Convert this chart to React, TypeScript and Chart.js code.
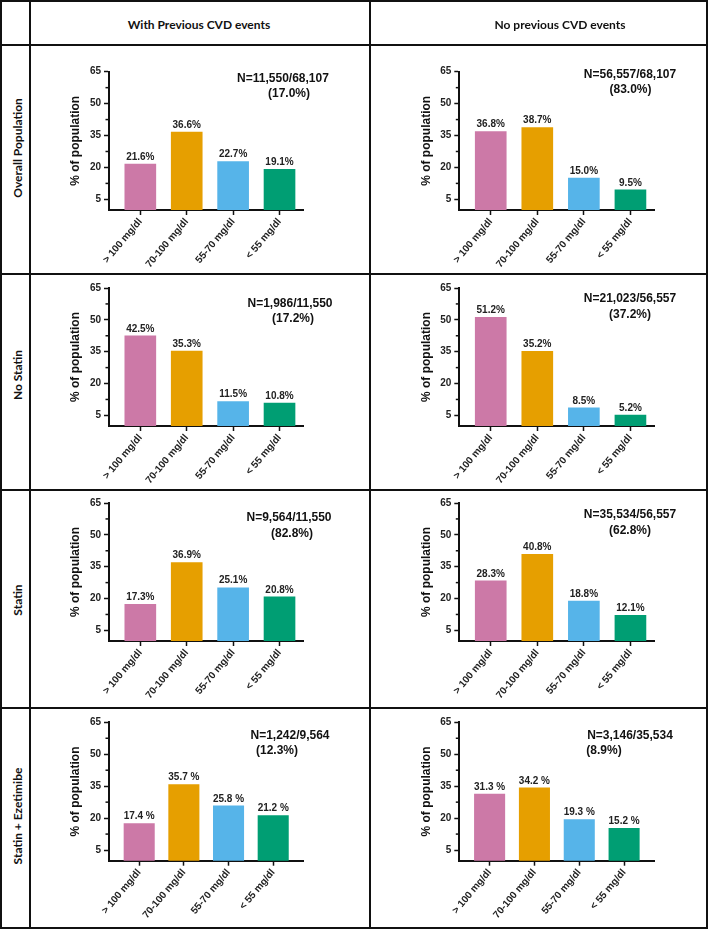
import React, { useEffect, useRef } from 'react';
import { Chart, registerables } from 'chart.js';

Chart.register(...registerables);

// ---------- data ----------
const categories = ['> 100 mg/dl', '70-100 mg/dl', '55-70 mg/dl', '< 55 mg/dl'];
const columnHeaders = ['With Previous CVD events', 'No previous CVD events'];
const rowLabels = ['Overall Population', 'No Statin', 'Statin', 'Statin + Ezetimibe'];
const yTicks = [5, 20, 35, 50, 65];
const yMinorTicks = [12.5, 27.5, 42.5, 57.5];
const barColors = ['#CC79A7', '#E69F00', '#56B4E9', '#009E73'];
const yTitle = '% of population';

const overallPrev = [21.6, 36.6, 22.7, 19.1];
const overallNoPrev = [36.8, 38.7, 15.0, 9.5];
const noStatinPrev = [42.5, 35.3, 11.5, 10.8];
const noStatinNoPrev = [51.2, 35.2, 8.5, 5.2];
const statinPrev = [17.3, 36.9, 25.1, 20.8];
const statinNoPrev = [28.3, 40.8, 18.8, 12.1];
const ezePrev = [17.4, 35.7, 25.8, 21.2];
const ezeNoPrev = [31.3, 34.2, 19.3, 15.2];

const nOverallPrev = ['N=11,550/68,107', '(17.0%)'];
const nOverallNoPrev = ['N=56,557/68,107', '(83.0%)'];
const nNoStatinPrev = ['N=1,986/11,550', '(17.2%)'];
const nNoStatinNoPrev = ['N=21,023/56,557', '(37.2%)'];
const nStatinPrev = ['N=9,564/11,550', '(82.8%)'];
const nStatinNoPrev = ['N=35,534/56,557', '(62.8%)'];
const nEzePrev = ['N=1,242/9,564', '(12.3%)'];
const nEzeNoPrev = ['N=3,146/35,534', '(8.9%)'];

const panelValues = [
  [overallPrev, overallNoPrev],
  [noStatinPrev, noStatinNoPrev],
  [statinPrev, statinNoPrev],
  [ezePrev, ezeNoPrev],
];
const panelN = [
  [nOverallPrev, nOverallNoPrev],
  [nNoStatinPrev, nNoStatinNoPrev],
  [nStatinPrev, nStatinNoPrev],
  [nEzePrev, nEzeNoPrev],
];
const rowSuffix = ['%', '%', '%', ' %'];

// ---------- layout ----------
const FONT = '"Liberation Sans", Arial, sans-serif';
const LABEL_FONT = 'Lato, "Open Sans", sans-serif';
const INK = '#111';

const colCells = [
  { left: 31, width: 338 },
  { left: 371, width: 335 },
];
const rowCells = [
  { top: 46, height: 227 },
  { top: 275, height: 214 },
  { top: 491, height: 216 },
  { top: 709, height: 218 },
];
const rowPlot = [
  { top: 71.7, bottom: 210, xMin: -0.675, xMax: 3.506, bar: 31 },
  { top: 288, bottom: 426, xMin: -0.675, xMax: 3.506, bar: 31 },
  { top: 503, bottom: 641, xMin: -0.675, xMax: 3.506, bar: 31 },
  { top: 722.3, bottom: 860.7, xMin: -0.676, xMax: 3.667, bar: 30.4 },
];
const colPlot = [
  { axisX: 109, right: 303 },
  { axisX: 459.3, right: 654 },
];
const nPos = [
  [[283, 78, 289, 93], [630, 74, 630.5, 89]],
  [[290, 303, 293, 318], [630, 298, 630, 314]],
  [[289, 517, 292, 533], [630, 514, 630, 530]],
  [[290, 735, 277, 750], [630, 735, 604, 750]],
];
const rowLabelPos = [
  [16.5, 148],
  [16.5, 375],
  [16.5, 600],
  [16.5, 816],
];
const headerPos = [
  [199, 24],
  [560, 24],
];
const hLines = [0, 44, 273, 489, 707, 927];
const vLines = [0, 29, 369, 706];

type PanelProps = {
  values: number[];
  suffix: string;
  cell: { left: number; top: number; width: number; height: number };
  plot: { axisX: number; right: number; top: number; bottom: number; xMin: number; xMax: number; bar: number };
};

function Panel({ values, suffix, cell, plot }: PanelProps) {
  const ref = useRef<HTMLCanvasElement | null>(null);
  useEffect(() => {
    if (!ref.current) return;
    const titleOffset = 33; // title centre left of axis
    const titleHalf = 7.2;
    const padLeft = plot.axisX - titleOffset - titleHalf - cell.left;
    const yWidth = plot.axisX - cell.left - padLeft;
    const xHeight = cell.top + cell.height - plot.bottom;

    const minorTicks = {
      id: 'minorTicks',
      afterDraw(chart: any) {
        const s = chart.scales.y;
        const c = chart.ctx;
        c.save();
        c.strokeStyle = INK;
        c.lineWidth = 1.5;
        yMinorTicks.forEach((v) => {
          const y = s.getPixelForValue(v);
          c.beginPath();
          c.moveTo(s.right - 3.5, y);
          c.lineTo(s.right, y);
          c.stroke();
        });
        c.restore();
      },
    };
    const barLabels = {
      id: 'barLabels',
      afterDatasetsDraw(chart: any) {
        const meta = chart.getDatasetMeta(0);
        const c = chart.ctx;
        c.save();
        c.font = `bold 10px ${FONT}`;
        c.fillStyle = '#222';
        c.textAlign = 'center';
        c.textBaseline = 'middle';
        meta.data.forEach((el: any, i: number) => {
          c.fillText(values[i].toFixed(1) + suffix, el.x, el.y - 7);
        });
        c.restore();
      },
    };

    const chart = new Chart(ref.current, {
      type: 'bar',
      data: {
        datasets: [
          {
            data: values.map((v, i) => ({ x: i, y: v })),
            backgroundColor: barColors,
            borderWidth: 0,
            barThickness: plot.bar,
          },
        ],
      },
      options: {
        animation: false,
        responsive: false,
        events: [],
        layout: {
          padding: {
            left: padLeft,
            top: plot.top - cell.top,
            right: cell.left + cell.width - plot.right,
            bottom: 0,
          },
        },
        plugins: { legend: { display: false }, tooltip: { enabled: false } },
        scales: {
          x: {
            type: 'linear',
            min: plot.xMin,
            max: plot.xMax,
            offset: false,
            afterBuildTicks: (s: any) => {
              s.ticks = categories.map((_, i) => ({ value: i }));
            },
            afterFit: (s: any) => {
              s.height = xHeight;
            },
            grid: {
              display: true,
              offset: false,
              drawOnChartArea: false,
              drawTicks: true,
              tickLength: 5,
              tickColor: INK,
              tickWidth: 1.5,
            },
            border: { display: true, color: INK, width: 2 },
            ticks: {
              autoSkip: false,
              minRotation: 50,
              maxRotation: 50,
              padding: 1,
              color: '#222',
              font: { family: FONT, size: 10, weight: 'bold' },
              callback: (v: any) => categories[v] ?? '',
            },
          },
          y: {
            type: 'linear',
            min: 0,
            max: 65,
            afterBuildTicks: (s: any) => {
              s.ticks = yTicks.map((v) => ({ value: v }));
            },
            afterFit: (s: any) => {
              s.width = yWidth;
            },
            grid: {
              display: true,
              drawOnChartArea: false,
              drawTicks: true,
              tickLength: 5,
              tickColor: INK,
              tickWidth: 1.5,
            },
            border: { display: true, color: INK, width: 2 },
            ticks: {
              padding: 3,
              color: '#222',
              font: { family: FONT, size: 10, weight: 'bold' },
            },
            title: {
              display: true,
              text: yTitle,
              color: INK,
              padding: 0,
              font: { family: FONT, size: 12, weight: 'bold' },
            },
          },
        },
      } as any,
      plugins: [minorTicks, barLabels],
    });
    return () => chart.destroy();
  }, [values, suffix, cell, plot]);

  return (
    <canvas
      ref={ref}
      width={cell.width}
      height={cell.height}
      style={{ position: 'absolute', left: cell.left, top: cell.top, width: cell.width, height: cell.height }}
    />
  );
}

export default function App() {
  const panels: any[] = [];
  rowCells.forEach((r, ri) => {
    colCells.forEach((c, ci) => {
      panels.push({
        key: `${ri}-${ci}`,
        values: panelValues[ri][ci],
        suffix: rowSuffix[ri],
        cell: { left: c.left, width: c.width, top: r.top, height: r.height },
        plot: { ...rowPlot[ri], ...colPlot[ci] },
        n: panelN[ri][ci],
        np: nPos[ri][ci],
      });
    });
  });

  const textBase: React.CSSProperties = {
    position: 'absolute',
    whiteSpace: 'nowrap',
    transform: 'translate(-50%, -50%)',
    lineHeight: 1,
  };

  return (
    <div style={{ position: 'absolute', left: 0, top: 0, width: 709, height: 929, background: '#fff', overflow: 'hidden' }}>
      {panels.map((p) => (
        <Panel key={p.key} values={p.values} suffix={p.suffix} cell={p.cell} plot={p.plot} />
      ))}
      {panels.map((p) => (
        <React.Fragment key={'n' + p.key}>
          <div style={{ ...textBase, left: p.np[0], top: p.np[1], font: `bold 12px ${FONT}`, color: INK }}>{p.n[0]}</div>
          <div style={{ ...textBase, left: p.np[2], top: p.np[3], font: `bold 12px ${FONT}`, color: INK }}>{p.n[1]}</div>
        </React.Fragment>
      ))}
      {columnHeaders.map((h, i) => (
        <div key={h} style={{ ...textBase, left: headerPos[i][0], top: headerPos[i][1], font: `bold 12px ${LABEL_FONT}`, color: INK }}>
          {h}
        </div>
      ))}
      {rowLabels.map((h, i) => (
        <div
          key={h}
          style={{
            ...textBase,
            left: rowLabelPos[i][0],
            top: rowLabelPos[i][1],
            transform: 'translate(-50%, -50%) rotate(-90deg)',
            font: `bold 12px ${LABEL_FONT}`,
            color: INK,
          }}
        >
          {h}
        </div>
      ))}
      {hLines.map((y) => (
        <div key={'h' + y} style={{ position: 'absolute', left: 0, top: y, width: 708, height: 2, background: INK }} />
      ))}
      {vLines.map((x) => (
        <div key={'v' + x} style={{ position: 'absolute', left: x, top: 0, width: 2, height: 929, background: INK }} />
      ))}
    </div>
  );
}
